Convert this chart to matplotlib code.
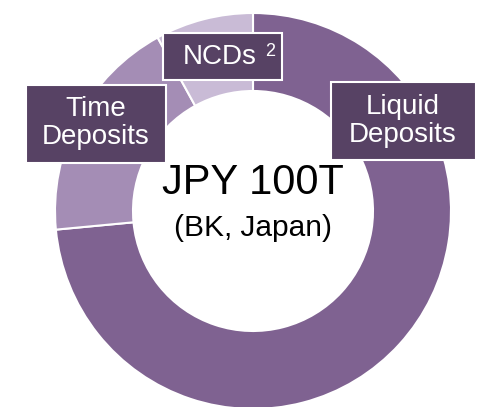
import matplotlib.pyplot as plt
from matplotlib.patches import Rectangle

plt.rcParams['font.family'] = ['Liberation Sans', 'DejaVu Sans']

# deposit mix (share of total, %)
segments = ["Liquid Deposits", "Time Deposits", "NCDs"]
shares = [73.5, 18.5, 8.0]
colors = ["#7f6291", "#a48db5", "#c9bbd6"]

box_color = "#574264"
W, H = 478, 407

fig = plt.figure(figsize=(W / 100, H / 100), dpi=100)
ax = fig.add_axes([0, 0, 1, 1])

# donut
cx, cy, r = 253, H - 211, 198
ax.pie(shares, colors=colors, startangle=90, counterclock=False,
       center=(cx, cy), radius=r, frame=True,
       wedgeprops=dict(width=78, edgecolor='white', linewidth=1.5))
ax.set_xlim(0, W)
ax.set_ylim(0, H)
ax.set_aspect('equal')
ax.axis('off')

# centre text
ax.text(cx, H - 183, "JPY 100T", ha='center', va='center', fontsize=30, color='black')
ax.text(cx, H - 228, "(BK, Japan)", ha='center', va='center', fontsize=21.5, color='black')


def label_box(x0, y0, x1, y1):
    ax.add_patch(Rectangle((x0, H - y1), x1 - x0, y1 - y0, facecolor=box_color,
                           edgecolor='white', linewidth=1.5, zorder=5))


# labels
label_box(331, 82, 476, 160)
ax.text(403, H - 121, "Liquid\nDeposits", ha='center', va='center', fontsize=20,
        color='white', linespacing=1.15, zorder=6)

label_box(26, 85, 166, 163)
ax.text(96, H - 123, "Time\nDeposits", ha='center', va='center', fontsize=20,
        color='white', linespacing=1.15, zorder=6)

label_box(163, 33, 282, 80)
ax.text(220, H - 57, "NCDs", ha='center', va='center', fontsize=20,
        color='white', zorder=6)
ax.text(270, H - 52, "2", ha='center', va='center', fontsize=13,
        color='white', zorder=6)

fig.savefig("out.png", dpi=100)
